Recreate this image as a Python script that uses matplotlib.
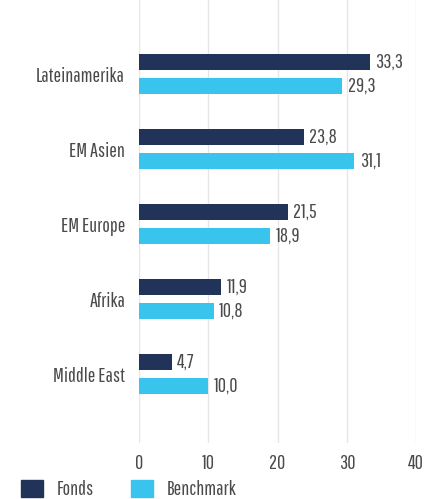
import matplotlib.pyplot as plt
from matplotlib.patches import Patch
import numpy as np

regions = ["Lateinamerika", "EM Asien", "EM Europe", "Afrika", "Middle East"]
fonds = [33.3, 23.8, 21.5, 11.9, 4.7]
benchmark = [29.3, 31.1, 18.9, 10.8, 10.0]
x_ticks = [0, 10, 20, 30, 40]

dark = "#22335a"
light = "#38c4ec"
text_color = "#4a4a4a"
fs = 14.5

plt.rcParams["font.family"] = ["Pathway Gothic One", "Roboto Condensed", "DejaVu Sans"]

fig = plt.figure(figsize=(4.25, 4.99), dpi=100)
ax = fig.add_axes([0.327, 0.112, 0.652, 0.888])

y = np.arange(len(regions))
h = 0.213
off = 0.16

b1 = ax.barh(y - off, fonds, height=h, color=dark, zorder=3)
b2 = ax.barh(y + off, benchmark, height=h, color=light, zorder=3)

fmt = lambda v: f"{v:.1f}".replace(".", ",")
for bars, vals in ((b1, fonds), (b2, benchmark)):
    for bar, v in zip(bars, vals):
        ax.annotate(fmt(v), (bar.get_width(), bar.get_y() + bar.get_height() / 2),
                    xytext=(4, 0), textcoords="offset points", va="center",
                    ha="left", fontsize=fs, color=text_color)

ax.set_yticks(y)
ax.set_yticklabels(regions)
ax.set_xticks(x_ticks)
ax.set_xlim(0, 40)
ax.set_ylim(len(regions) - 1 + 0.92, -0.99)
ax.grid(axis="x", color="#e6e6e6", linewidth=1, zorder=0)
ax.tick_params(length=0, labelsize=fs, labelcolor=text_color)
ax.tick_params(axis="y", pad=10)
ax.tick_params(axis="x", pad=8)
for s in ax.spines.values():
    s.set_visible(False)

handles = [Patch(color=dark, label="Fonds"), Patch(color=light, label="Benchmark")]
fig.legend(handles=handles, loc="upper left", bbox_to_anchor=(0.049, 0.038), ncol=2,
           frameon=False, fontsize=fs, handlelength=1.1, handleheight=0.9,
           handletextpad=0.7, columnspacing=1.8, borderpad=0, borderaxespad=0,
           labelcolor=text_color)

fig.savefig("out.png", dpi=100)
